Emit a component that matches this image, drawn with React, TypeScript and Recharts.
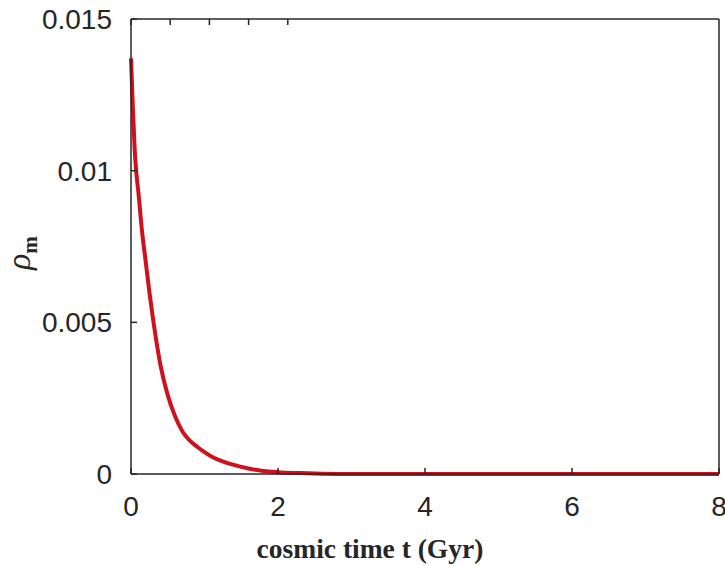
import React from "react";
import { LineChart, Line, XAxis, YAxis } from "recharts";

// cosmic time t (Gyr) and matter density rho_m
const tValues = [
  0, 0.025, 0.05, 0.07, 0.1, 0.15, 0.2, 0.25, 0.3, 0.35, 0.4, 0.5, 0.6, 0.7,
  0.8, 0.9, 1.0, 1.1, 1.2, 1.4, 1.6, 1.8, 2.0, 2.3, 2.6, 3, 4, 5, 6, 7, 8,
];
const rhoValues = [
  0.0137, 0.0121, 0.0107, 0.01, 0.0093, 0.008, 0.007, 0.006, 0.0051, 0.0043,
  0.0036, 0.0026, 0.0019, 0.0014, 0.0011, 0.0009, 0.00072, 0.00057, 0.00046,
  0.0003, 0.00018, 0.0001, 0.00006, 0.00003, 0.00001, 0, 0, 0, 0, 0, 0,
];
const xTicks = [0, 2, 4, 6, 8];
const yTicks = [0, 0.005, 0.01, 0.015];
const yTickLabels = ["0", "0.005", "0.01", "0.015"];

const data = tValues.map((t, i) => ({ t, rho: rhoValues[i] }));

const INK = "#262626";
const TICK_FONT = "'Liberation Sans', Arial, sans-serif";
const SERIF = "'Liberation Serif', 'Times New Roman', serif";
const TICK_LEN = 6;

function BottomTick({ x, y, payload }: any) {
  return (
    <g>
      <line x1={x} y1={y} x2={x} y2={y - TICK_LEN} stroke={INK} strokeWidth={1.5} />
      <text x={x} y={y + 42} textAnchor="middle" fontSize={28} fontFamily={TICK_FONT} fill={INK}>
        {payload.value}
      </text>
    </g>
  );
}

function TopTick({ x, y }: any) {
  return <line x1={x} y1={y} x2={x} y2={y + TICK_LEN} stroke={INK} strokeWidth={1.5} />;
}

function LeftTick({ x, y, payload, index }: any) {
  return (
    <g>
      <line x1={x} y1={y} x2={x + TICK_LEN} y2={y} stroke={INK} strokeWidth={1.5} />
      <text x={x - 19} y={y + 10} textAnchor="end" fontSize={28} fontFamily={TICK_FONT} fill={INK}>
        {yTickLabels[index] ?? payload.value}
      </text>
    </g>
  );
}

function RightTick({ x, y }: any) {
  return <line x1={x} y1={y} x2={x - TICK_LEN} y2={y} stroke={INK} strokeWidth={1.5} />;
}

function YLabel() {
  return (
    <text x={0} y={0} transform="translate(30 270) rotate(-90)" fontFamily={SERIF} fill={INK}>
      <tspan fontSize={34} fontStyle="italic">ρ</tspan>
      <tspan fontSize={21} fontWeight="bold" dy={7}>m</tspan>
    </text>
  );
}

function XLabel() {
  return (
    <text x={370} y={558} textAnchor="middle" fontSize={27.5} fontWeight="bold" fontFamily={SERIF} fill={INK}>
      cosmic time t (Gyr)
    </text>
  );
}

export default function App() {
  const axisLine = { stroke: INK, strokeWidth: 1.5 };
  return (
    <div style={{ position: "absolute", left: 0, top: 0, width: 725, height: 566, background: "#fff", overflow: "hidden" }}>
      <LineChart width={725} height={566} data={data} margin={{ top: 0, right: 0, bottom: 0, left: 0 }}>
        <XAxis
          dataKey="t"
          type="number"
          domain={[0, 8]}
          ticks={xTicks}
          height={92}
          tickSize={0}
          tickMargin={0}
          tickLine={false}
          axisLine={axisLine}
          tick={<BottomTick />}
          interval={0}
          label={<XLabel />}
        />
        <XAxis
          xAxisId="top"
          orientation="top"
          type="number"
          domain={[0, 8]}
          ticks={xTicks}
          height={19}
          tickSize={0}
          tickMargin={0}
          tickLine={false}
          axisLine={axisLine}
          tick={<TopTick />}
          interval={0}
        />
        <YAxis
          type="number"
          domain={[0, 0.015]}
          ticks={yTicks}
          width={131}
          tickSize={0}
          tickMargin={0}
          tickLine={false}
          axisLine={axisLine}
          tick={<LeftTick />}
          interval={0}
          label={<YLabel />}
        />
        <YAxis
          yAxisId="right"
          orientation="right"
          type="number"
          domain={[0, 0.015]}
          ticks={yTicks}
          width={6}
          tickSize={0}
          tickMargin={0}
          tickLine={false}
          axisLine={axisLine}
          tick={<RightTick />}
          interval={0}
        />
        <Line
          type="monotone"
          dataKey="rho"
          stroke="#d0101c"
          strokeWidth={4}
          dot={false}
          isAnimationActive={false}
        />
      </LineChart>
    </div>
  );
}
